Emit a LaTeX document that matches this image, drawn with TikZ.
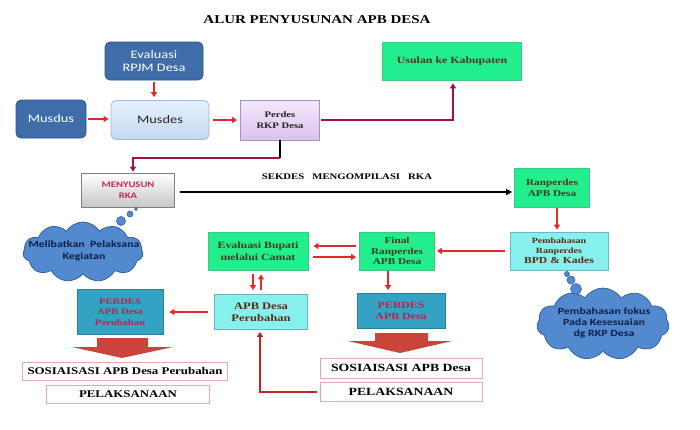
\documentclass[tikz,border=0pt]{standalone}
\usepackage{fontspec}
\setmainfont{Liberation Serif}[FakeStretch=1.25]
\setsansfont{Carlito}[FakeStretch=1.25]
\usetikzlibrary{arrows.meta,shapes.symbols,calc}
\definecolor{dblue}{HTML}{3E6DAA}
\definecolor{dblueb}{HTML}{2C5487}
\definecolor{mtop}{HTML}{E6F0FB}
\definecolor{mbot}{HTML}{C5D9F1}
\definecolor{mbord}{HTML}{9DB8DC}
\definecolor{ltop}{HTML}{F2E8F9}
\definecolor{lbot}{HTML}{D9C3EB}
\definecolor{lbord}{HTML}{A890C4}
\definecolor{gfill}{HTML}{22EE8E}
\definecolor{gbord}{HTML}{3CC883}
\definecolor{gtext}{HTML}{4A3A1C}
\definecolor{cfill}{HTML}{86F1EC}
\definecolor{cbord}{HTML}{6FB5C8}
\definecolor{ctext}{HTML}{5C2A12}
\definecolor{tfill}{HTML}{34A2C2}
\definecolor{tbord}{HTML}{2B7F98}
\definecolor{ttext}{HTML}{B5264A}
\definecolor{crim}{HTML}{A3123E}
\definecolor{rarr}{HTML}{E32A2A}
\definecolor{bigred}{HTML}{C9453B}
\definecolor{cloudf}{HTML}{5289CF}
\definecolor{cloudb}{HTML}{34619E}
\definecolor{cloudt}{HTML}{0F1F45}
\definecolor{sosb}{HTML}{E2A9AE}
\definecolor{menyt}{HTML}{C0285A}
\tikzset{
  base/.style={align=center, inner sep=1pt, line width=0.8pt},
  bluebox/.style={base, rounded corners=5pt, fill=dblue, draw=dblueb, text=white, font=\sffamily\fontsize{11.5}{13.5}\selectfont},
  musbox/.style={base, rounded corners=5pt, top color=mtop, bottom color=mbot, draw=mbord, text=black!85, font=\sffamily\fontsize{11.5}{13.5}\selectfont},
  lavbox/.style={base, top color=ltop, bottom color=lbot, draw=lbord, text=black!85, font=\bfseries\fontsize{8.5}{10.5}\selectfont},
  greenbox/.style={base, fill=gfill, draw=gbord, text=gtext, font=\bfseries\fontsize{9}{10.5}\selectfont},
  cyanbox/.style={base, fill=cfill, draw=cbord, text=ctext, font=\bfseries\fontsize{9.5}{11}\selectfont},
  tealbox/.style={base, fill=tfill, draw=tbord, text=ttext, font=\bfseries\fontsize{8.5}{10.5}\selectfont},
  greybox/.style={base, top color=white, bottom color=black!22, draw=black!50, text=menyt, font=\sffamily\bfseries\fontsize{8.5}{10.5}\selectfont},
  sosbox/.style={base, fill=white, draw=sosb, text=black, font=\bfseries\fontsize{10.3}{12}\selectfont},
  cloudshape/.style={cloud, cloud puffs=11, cloud puff arc=115, aspect=2, fill=cloudf, draw=cloudb, line width=0.8pt, inner sep=0pt},
  cloudtext/.style={align=center, text=cloudt, font=\sffamily\bfseries\fontsize{9.5}{11.2}\selectfont},
  bubble/.style={circle, fill=cloudf, draw=cloudb, line width=0.6pt, inner sep=0pt},
  redarr/.style={draw=rarr, line width=1.6pt, -{Triangle[length=5pt,width=6pt]}},
  crimline/.style={draw=crim, line width=2pt},
  crimarr/.style={crimline, -{Triangle[length=5pt,width=6pt]}},
  blackarr/.style={draw=black, line width=1.8pt, -{Triangle[length=6pt,width=6pt]}}
}
\begin{document}
\begin{tikzpicture}[x=1pt,y=-1pt]
\useasboundingbox[fill=white] (0,0) rectangle (700,429);

\node[font=\bfseries\fontsize{12}{14}\selectfont] (title) at (317,20) {ALUR PENYUSUNAN APB DESA};

% top row
\node[bluebox, minimum width=98pt, minimum height=38pt] (evrpjm) at (154,61) {Evaluasi\\RPJM Desa};
\node[bluebox, minimum width=70pt, minimum height=38pt] (musdus) at (51,119) {Musdus};
\node[musbox, minimum width=98pt, minimum height=39pt] (musdes) at (160,120) {Musdes};
\node[lavbox, minimum width=79pt, minimum height=40pt] (perdesrkp) at (280,120) {Perdes\\RKP Desa};
\node[greenbox, minimum width=139pt, minimum height=38pt, font=\bfseries\fontsize{9.5}{11}\selectfont] (usulan) at (452,61) {Usulan ke Kabupaten};

% second row
\node[greybox, minimum width=93pt, minimum height=34pt] (menyusun) at (128,190) {MENYUSUN\\RKA};
\node[greenbox, minimum width=75pt, minimum height=39pt] (ranperdes) at (552,188) {Ranperdes\\APB Desa};

% third row
\node[cyanbox, minimum width=98pt, minimum height=38pt, font=\bfseries\fontsize{8}{10}\selectfont] (pembahasan) at (559,251) {Pembahasan\\Ranperdes\\\fontsize{9.3}{10.8}\selectfont BPD \& Kades};
\node[greenbox, minimum width=75pt, minimum height=38pt, font=\bfseries\fontsize{9}{10.3}\selectfont] (final) at (397,251) {Final\\Ranperdes\\APB Desa};
\node[greenbox, minimum width=100pt, minimum height=38pt, font=\bfseries\fontsize{9.5}{12}\selectfont] (evbupati) at (258,251) {Evaluasi Bupati\\melalui Camat};

% fourth row
\node[cyanbox, minimum width=93pt, minimum height=35pt, font=\bfseries\fontsize{10}{12}\selectfont] (apbper) at (261,312) {APB Desa\\Perubahan};
\node[tealbox, minimum width=88pt, minimum height=35pt, font=\bfseries\fontsize{9.5}{11.5}\selectfont] (perdesmid) at (401,311) {PERDES\\APB Desa};
\node[tealbox, minimum width=86pt, minimum height=45pt] (perdesper) at (120,312) {PERDES\\APB Desa\\Perubahan};

% bottom boxes
\node[sosbox, minimum width=205pt, minimum height=18pt] (sos1) at (125,371) {SOSIAISASI APB Desa Perubahan};
\node[sosbox, minimum width=163pt, minimum height=18pt] (pel1) at (128,394) {PELAKSANAAN};
\node[sosbox, minimum width=162pt, minimum height=20pt, font=\bfseries\fontsize{11}{13}\selectfont] (sos2) at (401,368) {SOSIAISASI APB Desa};
\node[sosbox, minimum width=162pt, minimum height=19pt, font=\bfseries\fontsize{11}{13}\selectfont] (pel2) at (401,392) {PELAKSANAAN};

% clouds
\node[cloudshape, minimum width=120pt, minimum height=60pt] (cloud1) at (83,252) {};
\node[cloudtext] (cloud1t) at (84,251) {Melibatkan~~Pelaksana\\Kegiatan};
\node[bubble, minimum size=3pt] (b1a) at (136,209) {};
\node[bubble, minimum size=6pt] (b1b) at (130,214) {};
\node[bubble, minimum size=9pt] (b1c) at (121,221) {};

\node[cloudshape, minimum width=132pt, minimum height=72pt] (cloud2) at (603,324) {};
\node[cloudtext] (cloud2t) at (604,323) {Pembahasan fokus\\Pada Kesesuaian\\dg RKP Desa};
\node[bubble, minimum size=5pt] (b2a) at (567,274) {};
\node[bubble, minimum size=8pt] (b2b) at (571,280) {};
\node[bubble, minimum size=11pt] (b2c) at (576,289) {};

% connectors top
\draw[redarr, shorten <=2pt, shorten >=3pt] (evrpjm.south) -- (evrpjm.south |- musdes.north);
\draw[redarr, shorten <=2pt, shorten >=2pt] (musdus.east) -- (musdus.east -| musdes.west);
\draw[redarr, shorten <=4pt, shorten >=3pt] (musdes.east) -- (musdes.east -| perdesrkp.west);
\draw[crimarr, shorten <=1pt, shorten >=3pt] (perdesrkp.east) -| ([xshift=1pt]usulan.south);
\draw[black, line width=2pt] (perdesrkp.south) -- ++(0,18) coordinate (k1);
\draw[crimarr, shorten >=1pt] (k1) -| ([xshift=5pt]menyusun.north);

% sekdes arrow
\draw[blackarr, shorten <=5pt, shorten >=2pt] ([yshift=-2pt]menyusun.east) -- ([yshift=-2pt]menyusun.east -| ranperdes.west);
\node[font=\bfseries\fontsize{8.6}{10}\selectfont] (sekdes) at (347,177) {SEKDES~~~MENGOMPILASI~~~RKA};

% right column
\draw[redarr, shorten <=0pt, shorten >=2pt] ([xshift=5pt]ranperdes.south) -- ([xshift=5pt]ranperdes.south |- pembahasan.north);
\draw[redarr, shorten <=5pt, shorten >=2pt] (pembahasan.west) -- (final.east);
\draw[redarr, shorten <=3pt, shorten >=5pt] ([yshift=5pt]final.west) -- ([yshift=5pt]evbupati.east);
\draw[redarr, shorten <=5pt, shorten >=3pt] ([yshift=-6pt]evbupati.east) -- ([yshift=-6pt]final.west);
\draw[redarr, shorten <=1pt, shorten >=3pt] ([xshift=-9pt]final.south) -- ([xshift=-9pt]final.south |- perdesmid.north);
\draw[redarr, shorten <=4pt, shorten >=4pt] ([xshift=-5pt]evbupati.south) -- ([xshift=-5pt]evbupati.south |- apbper.north);
\draw[redarr, shorten <=4pt, shorten >=4pt] ([xshift=3pt]evbupati.south |- apbper.north) -- ([xshift=3pt]evbupati.south);
\draw[redarr, shorten <=6pt, shorten >=6pt] (apbper.west) -- (apbper.west -| perdesper.east);
\draw[draw=rarr!85!black, line width=1.6pt, -{Triangle[length=5pt,width=6pt]}, shorten <=3pt, shorten >=2pt] (pel2.west) -| ([xshift=-1pt]apbper.south);

% big block arrows
\fill[bigred] (97,338) -- (148,338) -- (148,347) -- (173,347) -- (122,358) -- (72,347) -- (97,347) -- cycle;
\fill[bigred] (375,333) -- (428,333) -- (428,341) -- (452,341) -- (400,353) -- (348,341) -- (375,341) -- cycle;
\end{tikzpicture}
\end{document}
